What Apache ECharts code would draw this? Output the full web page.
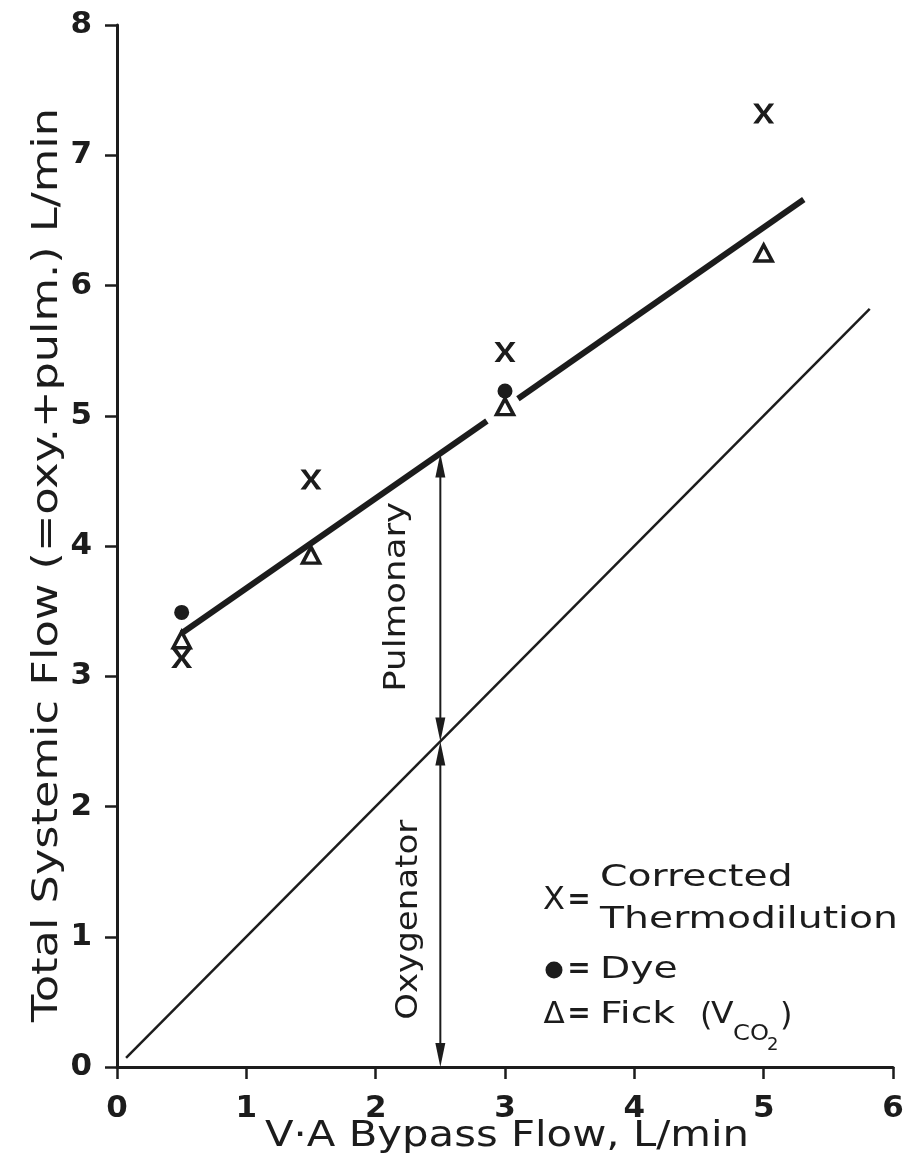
<!DOCTYPE html>
<html>
<head>
<meta charset="utf-8">
<script src="https://cdn.jsdelivr.net/npm/echarts@6/dist/echarts.min.js"></script>
<style>
  html, body { margin: 0; background: #fff; }
  #main { width: 910px; height: 1162px; }
</style>
</head>
<body>
<div id="main"></div>
<script>
// measured values (L/min)
const bypassFlow = [0.5, 1.5, 3, 5];
const thermodilution = [3.14, 4.51, 5.49, 7.32];
const dyeFlow = [0.5, 3];
const dye = [3.49, 5.19];
const fick = [3.28, 3.93, 5.07, 6.25];

// fitted line (broken where the points at 3 L/min sit) and line of identity
const fitLineA = [[0.5, 3.33], [2.86, 4.96]];
const fitLineB = [[3.10, 5.13], [5.31, 6.66]];
const identityLine = [[0.07, 0.07], [5.82, 5.82]];

// split arrows at 2.5 L/min: oxygenator part, pulmonary part
const splitAt = 2.5;
const arrowSpans = [[0, 2.5], [2.5, 4.71]];

const FONT = '"DejaVu Sans", sans-serif';
const INK = '#1c1c1c';

const chart = echarts.init(document.getElementById('main'));

// text width helper, used to stretch text to the wide face of the original
const ctx = document.createElement('canvas').getContext('2d');
function stretch(str, size, target, weight) {
    ctx.font = (weight || 'normal') + ' ' + size + 'px "DejaVu Sans"';
    return target / ctx.measureText(str).width;
}

const xCross = 'path://M0,0L5.5,0L11,7.5L16.5,0L22,0L14,10L22,20L16.5,20L11,12.5L5.5,20L0,20L8,10Z';

function renderArrow(params, api) {
    const x = api.value(0);
    const a = api.coord([x, api.value(1)]);
    const b = api.coord([x, api.value(2)]);
    const hw = 5, hl = 24;
    return {
        type: 'group',
        children: [
            { type: 'line', shape: { x1: a[0], y1: a[1] - hl + 2, x2: b[0], y2: b[1] + hl - 2 },
              style: { stroke: INK, lineWidth: 2 } },
            { type: 'polygon', shape: { points: [[a[0], a[1]], [a[0] - hw, a[1] - hl], [a[0] + hw, a[1] - hl]] },
              style: { fill: INK } },
            { type: 'polygon', shape: { points: [[b[0], b[1]], [b[0] - hw, b[1] + hl], [b[0] + hw, b[1] + hl]] },
              style: { fill: INK } }
        ]
    };
}

const axisCommon = {
    type: 'value',
    min: 0,
    interval: 1,
    splitLine: { show: false },
    axisLine: { show: true, lineStyle: { color: INK, width: 3 } },
    axisTick: { show: true, length: 12, lineStyle: { color: INK, width: 2.5 } },
    axisLabel: { color: INK, fontSize: 31, fontWeight: 'bold', fontFamily: FONT }
};

chart.setOption({
    animation: false,
    backgroundColor: '#fff',
    grid: { left: 117, right: 17, top: 25, bottom: 95 },
    xAxis: Object.assign({}, axisCommon, {
        max: 6,
        axisLabel: Object.assign({}, axisCommon.axisLabel, { margin: 26 })
    }),
    yAxis: Object.assign({}, axisCommon, {
        max: 8,
        axisLabel: Object.assign({}, axisCommon.axisLabel, { margin: 25 })
    }),
    series: [
        {
            name: 'identity', type: 'line', data: identityLine, symbol: 'none',
            lineStyle: { color: INK, width: 2.5 }
        },
        {
            name: 'fitA', type: 'line', data: fitLineA, symbol: 'none',
            lineStyle: { color: INK, width: 6 }
        },
        {
            name: 'fitB', type: 'line', data: fitLineB, symbol: 'none',
            lineStyle: { color: INK, width: 6 }
        },
        {
            name: 'arrows', type: 'custom', renderItem: renderArrow, clip: false,
            encode: { x: 0, y: [1, 2] },
            data: arrowSpans.map(s => [splitAt, s[0], s[1]])
        },
        {
            name: 'Corrected Thermodilution', type: 'scatter',
            data: bypassFlow.map((x, i) => [x, thermodilution[i]]),
            symbol: xCross, symbolSize: [21, 20],
            itemStyle: { color: INK, opacity: 1 }
        },
        {
            name: 'Dye', type: 'scatter',
            data: dyeFlow.map((x, i) => [x, dye[i]]),
            symbol: 'circle', symbolSize: 15,
            itemStyle: { color: INK, opacity: 1 }
        },
        {
            name: 'Fick', type: 'scatter',
            data: bypassFlow.map((x, i) => [x, fick[i]]),
            symbol: 'triangle', symbolSize: [17, 16],
            itemStyle: { color: 'transparent', borderColor: INK, borderWidth: 3.5, opacity: 1 }
        }
    ]
});

function txt(str, x, y, size, opts) {
    opts = opts || {};
    return {
        type: 'text', x: x, y: y,
        rotation: opts.rotation || 0,
        scaleX: opts.scaleX || 1,
        style: {
            text: str, fill: INK,
            font: (opts.weight || 'normal') + ' ' + size + 'px ' + FONT,
            fontSize: size, fontFamily: FONT, fontWeight: opts.weight || 'normal',
            align: opts.align || 'center', textAlign: opts.align || 'center',
            verticalAlign: 'middle', textVerticalAlign: 'middle'
        }
    };
}

const yTitle = 'Total Systemic Flow (=oxy.+pulm.) L/min';
const xTitle = 'V\u00b7A Bypass Flow, L/min';
const pulm = chart.convertToPixel({ gridIndex: 0 }, [2.17, 3.61]);
const oxy = chart.convertToPixel({ gridIndex: 0 }, [2.26, 1.13]);
const legScale = stretch('Thermodilution', 30, 298);

chart.setOption({
    graphic: [
        txt(yTitle, 48, 565, 36, { rotation: Math.PI / 2, scaleX: stretch(yTitle, 36, 914) }),
        txt(xTitle, 507, 1137, 36, { scaleX: stretch(xTitle, 36, 484) }),
        txt('Pulmonary', pulm[0], pulm[1], 30, { rotation: Math.PI / 2, scaleX: stretch('Pulmonary', 30, 190) }),
        txt('Oxygenator', oxy[0], oxy[1], 30, { rotation: Math.PI / 2, scaleX: stretch('Oxygenator', 30, 200) }),

        // legend
        txt('X', 554, 901, 32),
        txt('=', 579, 901, 28, { weight: 'bold' }),
        txt('Corrected', 600, 878, 30, { align: 'left', scaleX: legScale }),
        txt('Thermodilution', 600, 920, 30, { align: 'left', scaleX: legScale }),

        { type: 'circle', shape: { cx: 554, cy: 970, r: 8.5 }, style: { fill: INK } },
        txt('=', 579, 970, 28, { weight: 'bold' }),
        txt('Dye', 600, 970, 30, { align: 'left', scaleX: legScale }),

        txt('\u0394', 554, 1015, 31),
        txt('=', 579, 1015, 28, { weight: 'bold' }),
        txt('Fick', 600, 1015, 30, { align: 'left', scaleX: legScale }),
        txt('(', 700, 1017, 32, { align: 'left' }),
        txt('V', 711, 1015, 30, { align: 'left', scaleX: 1.1 }),
        txt('CO', 733, 1034, 22, { align: 'left', scaleX: 1.1 }),
        txt('2', 767, 1045, 18, { align: 'left' }),
        txt(')', 780, 1017, 32, { align: 'left' })
    ]
});
</script>
</body>
</html>
